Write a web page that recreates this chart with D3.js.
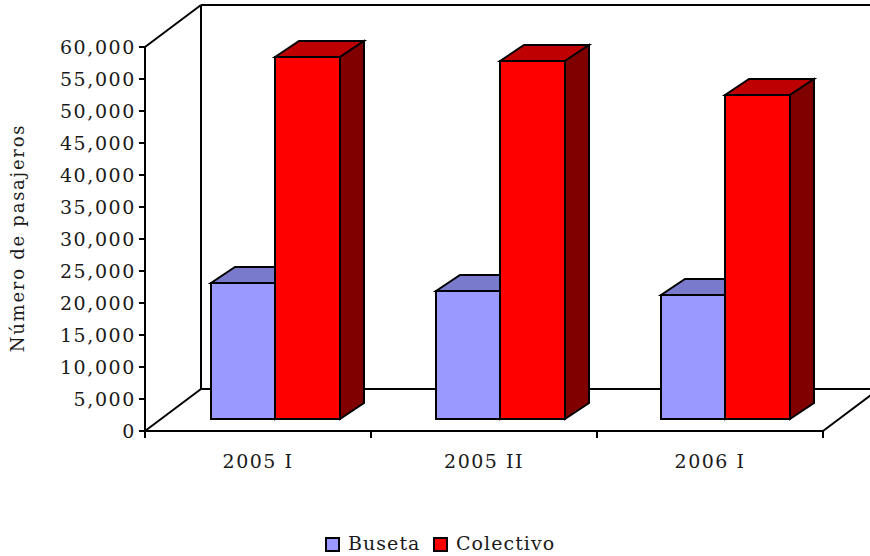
<!DOCTYPE html>
<html><head><meta charset="utf-8">
<script src="https://cdn.jsdelivr.net/npm/d3@7"></script>
<style>html,body{margin:0;background:#fff}svg{display:block}text{font-family:"DejaVu Serif",serif;fill:#1a1a1a}</style>
</head><body><div id="c"></div>
<script>
const categories = ["2005 I","2005 II","2006 I"];
const seriesNames = ["Buseta","Colectivo"];
const buseta = [21250,20000,19400];
const colectivo = [56500,55900,50650];
const yTicks = d3.range(0,60001,5000);
const colors = {Buseta:{front:"#9999ff",top:"#7a7acc",side:"#4d4d80"},Colectivo:{front:"#ff0000",top:"#bf0000",side:"#800000"}};

const W=870,H=556;
const svg=d3.select("#c").append("svg").attr("width",W).attr("height",H);
const x0=145,x1=823,yB=431,yT=47;
const wallDx=56,wallDy=-42,barDx=24,barDy=-16,barLift=12;
const y=d3.scaleLinear().domain([0,60000]).range([yB,yT]);
const x=d3.scaleBand().domain(categories).range([x0,x1]).paddingInner(0.42).paddingOuter(0.21);
const barX=d3.scaleBand().domain(categories).range([211,790]).paddingInner(1-129/225);
const xs=d3.scaleBand().domain(seriesNames).range([0,barX.bandwidth()]);
const line=(a,b,c,d)=>svg.append("line").attr("x1",a).attr("y1",b).attr("x2",c).attr("y2",d).attr("stroke","#000").attr("stroke-width",2);

// walls
line(x0+wallDx,yT+wallDy,W,yT+wallDy);
line(x0+wallDx,yT+wallDy,x0+wallDx,yB+wallDy);
line(x0+wallDx,yB+wallDy,W,yB+wallDy);
line(x0,yT,x0+wallDx,yT+wallDy);
line(x0,yB,x0+wallDx,yB+wallDy);
line(x1,yB,x1+wallDx,yB+wallDy);

// bars
const rows=categories.flatMap((c,i)=>[{c,s:"Buseta",v:buseta[i]},{c,s:"Colectivo",v:colectivo[i]}]);
const g=svg.append("g").attr("stroke","#000").attr("stroke-width",2).attr("stroke-linejoin","miter");
rows.forEach(d=>{
  const l=Math.floor(barX(d.c)+xs(d.s)), r=Math.floor(barX(d.c)+xs(d.s)+xs.bandwidth()), t=Math.round(y(d.v)-barLift), b=y(0)-barLift, col=colors[d.s];
  g.append("polygon").attr("fill",col.top).attr("points",[[l,t],[l+barDx,t+barDy],[r+barDx,t+barDy],[r,t]].join(" "));
  g.append("polygon").attr("fill",col.side).attr("points",[[r,t],[r+barDx,t+barDy],[r+barDx,b+barDy],[r,b]].join(" "));
  g.append("rect").attr("fill",col.front).attr("x",l).attr("y",t).attr("width",r-l).attr("height",b-t);
});

// axes
const ya=d3.axisLeft(y).tickValues(yTicks).tickSize(6).tickPadding(3).tickFormat(d3.format(",")).offset(0);
const yg=svg.append("g").attr("transform",`translate(${x0},0)`).call(ya);
yg.selectAll("path,line").attr("stroke","#000").attr("stroke-width",2);
yg.select("path").attr("d",`M0,${yT}V${yB}`);
yg.selectAll("text").attr("dy","7").style("font-size","19px").style("letter-spacing","1.6px");
const xa=d3.axisBottom(x).tickSize(0).tickPadding(24).offset(0);
const xg=svg.append("g").attr("transform",`translate(0,${yB})`).call(xa);
xg.select("path").attr("d",`M${x0},0H${x1}`).attr("stroke","#000").attr("stroke-width",2);
xg.selectAll("text").style("font-size","19px").style("letter-spacing","1.5px");
xg.selectAll("line").remove();
d3.range(categories.length+1).forEach(i=>{const p=x0+i*x.step();line(p,yB,p,yB+7);});

svg.append("text").attr("transform","translate(24,238) rotate(-90)").attr("text-anchor","middle").style("font-size","18px").style("letter-spacing","1.75px").text("Número de pasajeros");

// legend
const lx=[326,434];
seriesNames.forEach((s,i)=>{
  svg.append("rect").attr("x",lx[i]).attr("y",538).attr("width",13).attr("height",13).attr("fill",colors[s].front).attr("stroke","#000").attr("stroke-width",2);
  svg.append("text").attr("x",lx[i]+22).attr("y",550).style("font-size","19px").style("letter-spacing","1.05px").text(s);
});
</script></body></html>
